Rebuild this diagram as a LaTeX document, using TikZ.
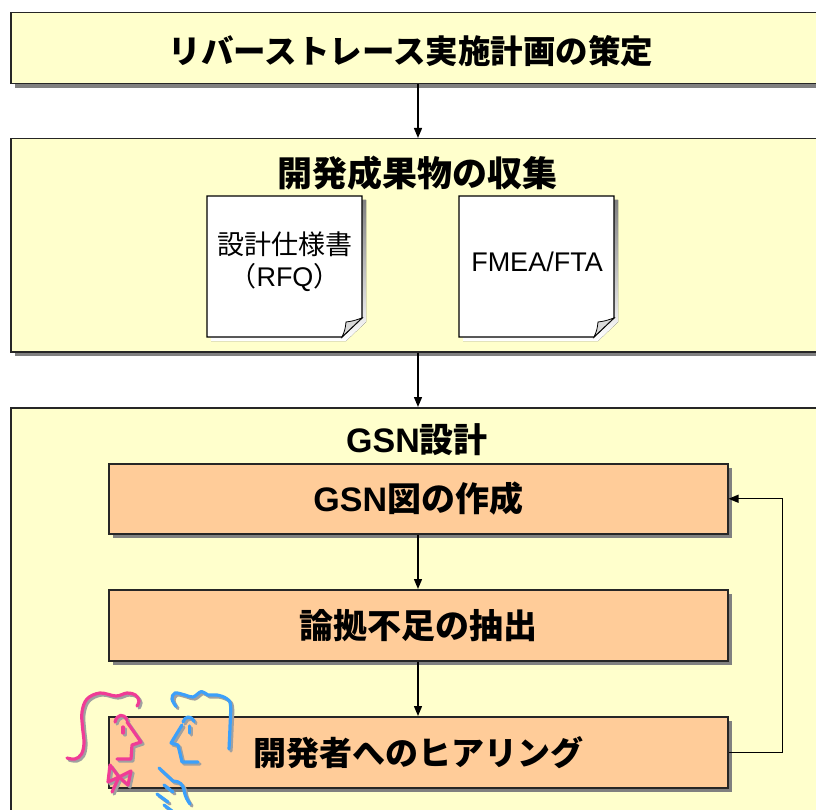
\documentclass[tikz,border=0pt]{standalone}
\usepackage{fontspec}
\setmainfont{Liberation Sans}
\newfontfamily\lat{Liberation Sans}
\newfontfamily\jp{Noto Sans CJK JP}
\usetikzlibrary{arrows.meta,shadows}

\definecolor{paleyellow}{HTML}{FFFFCC}
\definecolor{peach}{HTML}{FFCC99}
\definecolor{shade}{HTML}{808080}
\definecolor{strokeshade}{HTML}{A0A0A0}
\definecolor{pinkline}{RGB}{240,60,150}
\definecolor{blueline}{RGB}{60,160,250}

\tikzset{
  boxshadow/.style={drop shadow={shadow xshift=4pt, shadow yshift=-4pt, fill=shade, opacity=1}},
  stage/.style={draw=black!85, line width=1.5pt, fill=paleyellow, boxshadow,
    anchor=north west, inner sep=0pt},
  task/.style={draw=black!85, line width=1.5pt, fill=peach, boxshadow,
    anchor=north west, inner sep=0pt, minimum width=619pt,
    font=\jp\bfseries\fontsize{34}{40}\selectfont},
  headline/.style={font=\jp\bfseries\fontsize{34}{40}\selectfont, inner sep=0pt},
  flow/.style={line width=1.4pt, -{Triangle[length=10pt,width=8pt]}},
  paper/.style={draw=black, line width=1.1pt, fill=white},
  fold/.style={draw=black, line width=0.8pt, fill=gray!30},
  doctext/.style={inner sep=0pt, align=center},
  sketch/.style={line width=3.2pt, line cap=round, line join=round},
}

\begin{document}
\begin{tikzpicture}[x=1pt,y=-1pt]
\useasboundingbox (0,0) rectangle (816,810);
\begin{scope}
\clip (0,0) rectangle (816,810);

% vertical axis of the main flow
\coordinate (ax) at (418,0);

% stage boxes
\node[stage, minimum width=820pt, minimum height=71pt] (plan) at (10,12) {};
\node[stage, minimum width=820pt, minimum height=213pt] (collect) at (10,138) {};
\node[stage, minimum width=820pt, minimum height=430pt] (gsn) at (10,407) {};

\node[headline, font=\jp\bfseries\fontsize{32.5}{40}\selectfont] (plantitle) at (411,51) {リバーストレース実施計画の策定};
\node[headline, font=\jp\bfseries\fontsize{35}{40}\selectfont] (collecttitle) at (417,173) {開発成果物の収集};
\node[headline] (gsntitle) at (417,440) {{\lat GSN}設計};

% collected documents
\foreach \x in {207,459} {
  \fill[shade] (\x+4,200) -- (\x+159,200) -- (\x+159,322) -- (\x+139,341) -- (\x+4,341) -- cycle;
  \path[paper] (\x,196) -- (\x+155,196) -- (\x+155,318) -- (\x+135,337) -- (\x,337) -- cycle;
  \path[fold] (\x+135,337) .. controls (\x+138,330) .. (\x+139,322) .. controls (\x+146,321) .. (\x+155,318) -- cycle;
}
\node[doctext, font=\jp\fontsize{27}{32}\selectfont] (spec) at (285,262) {設計仕様書\\（{\lat RFQ}）};
\node[doctext, font=\lat\fontsize{27}{32}\selectfont] (fmea) at (537,262) {FMEA/FTA};

% GSN tasks
\node[task, minimum height=70pt] (draft) at (108,463) {{\lat GSN}図の作成};
\node[task, minimum height=71pt] (gap) at (108,589) {論拠不足の抽出};
\node[task, minimum height=71pt, font=\jp\bfseries\fontsize{33}{40}\selectfont] (hear) at (108,716) {開発者へのヒアリング};

% connectors
\draw[flow] (plan.south -| ax) -- (collect.north -| ax);
\draw[flow] (collect.south -| ax) -- (gsn.north -| ax);
\draw[flow] (draft.south -| ax) -- (gap.north -| ax);
\draw[flow] (gap.south -| ax) -- (hear.north -| ax);
\draw[flow] (hear.east) -- ++(54,0) |- (draft.east);

% two people talking
\foreach \off/\ink in {2/strokeshade, 0/pinkline} {
  \begin{scope}[shift={(\off,\off)}, sketch, draw=\ink]
    \draw plot[smooth, tension=0.6] coordinates {(67,758) (75,759) (81.5,754) (84,743) (82.5,727) (82,712) (87,699) (100,693) (116,696) (127,693) (135.5,695) (139,701) (137,706)};
    \draw (115,722) .. controls (117,714) and (124,713) .. (127,720);
    \draw (123,727) -- (123,733);
    \draw (127,722) -- (141,742) -- (132,745) -- (131,759) -- (117,759);
    \draw (119,777) -- (110,765) -- (108,782) -- cycle;
    \draw (119,777) -- (131,771) -- (128,785) -- cycle;
    \draw (119,777) -- (112,792);
  \end{scope}
}
\foreach \off/\ink in {2/strokeshade, 0/blueline} {
  \begin{scope}[shift={(\off,\off)}, sketch, draw=\ink]
    \draw plot[smooth, tension=0.6] coordinates {(176,706.5) (172,699) (175,693) (185,695) (193,697) (201.5,691.5) (208,695) (217,695) (226.5,698.5) (230.5,705) (230,727) (229,749)};
    \draw (183,722) .. controls (185,716) and (191,715) .. (194,721.5);
    \draw (189.5,726) -- (189.5,733);
    \draw (182,725) -- (171,743) -- (178,745) -- (182,762) -- (198,762);
    \draw (159,768) -- (173,781) .. controls (180,781) and (183,785) .. (184,790) .. controls (185,797) and (188,801) .. (190,804);
    \draw (164,785) -- (173,792);
    \draw (157,794) -- (168,802);
    \draw (164,805) -- (172,811);
  \end{scope}
}
\end{scope}
\end{tikzpicture}
\end{document}
